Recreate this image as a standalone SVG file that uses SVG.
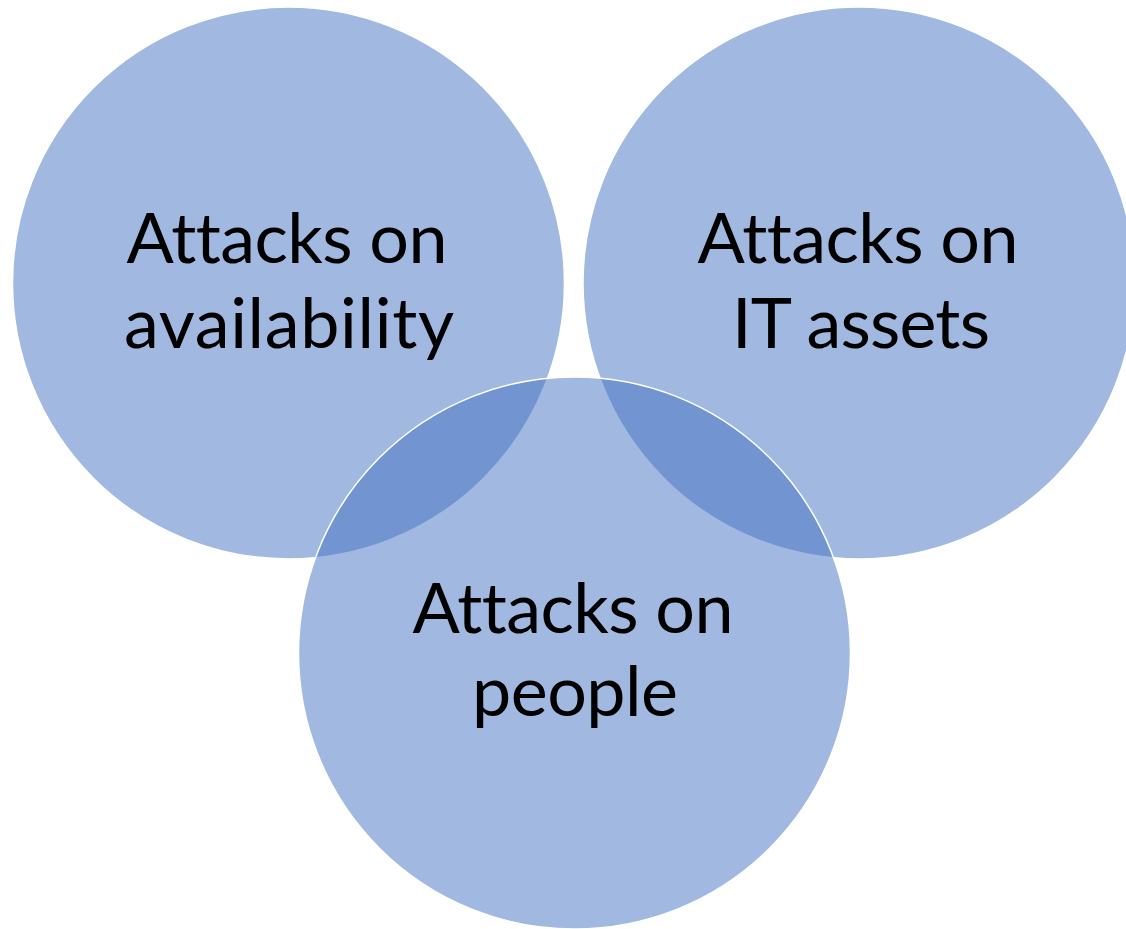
<svg xmlns="http://www.w3.org/2000/svg" width="1126" height="929" viewBox="0 0 1126 929">
  <style>
    .venn { fill: #4472C4; fill-opacity: 0.5; stroke: #FFFFFF; stroke-width: 1.5; }
    .label { font-family: Lato, "Open Sans", "Liberation Sans", sans-serif; font-size: 70px; fill: #000000; text-anchor: middle; font-variant-ligatures: none; font-feature-settings: "liga" 0, "clig" 0; }
  </style>
  <rect width="1126" height="929" fill="#FFFFFF"/>
  <g id="availability">
    <circle class="venn" cx="288.5" cy="283" r="276"/>
    <text class="label" x="287" y="263" textLength="321" lengthAdjust="spacing">Attacks on</text>
    <text class="label" x="289" y="348" textLength="330" lengthAdjust="spacing">availability</text>
  </g>
  <g id="it-assets">
    <circle class="venn" cx="859" cy="283" r="276"/>
    <text class="label" x="858" y="263" textLength="321" lengthAdjust="spacing">Attacks on</text>
    <text class="label" x="861" y="348" textLength="258" lengthAdjust="spacing">IT assets</text>
  </g>
  <g id="people">
    <circle class="venn" cx="574.5" cy="653" r="276"/>
    <text class="label" x="573" y="633" textLength="321" lengthAdjust="spacing">Attacks on</text>
    <text class="label" x="575" y="716" textLength="206" lengthAdjust="spacing">people</text>
  </g>
  <g id="connectors"/>
</svg>
